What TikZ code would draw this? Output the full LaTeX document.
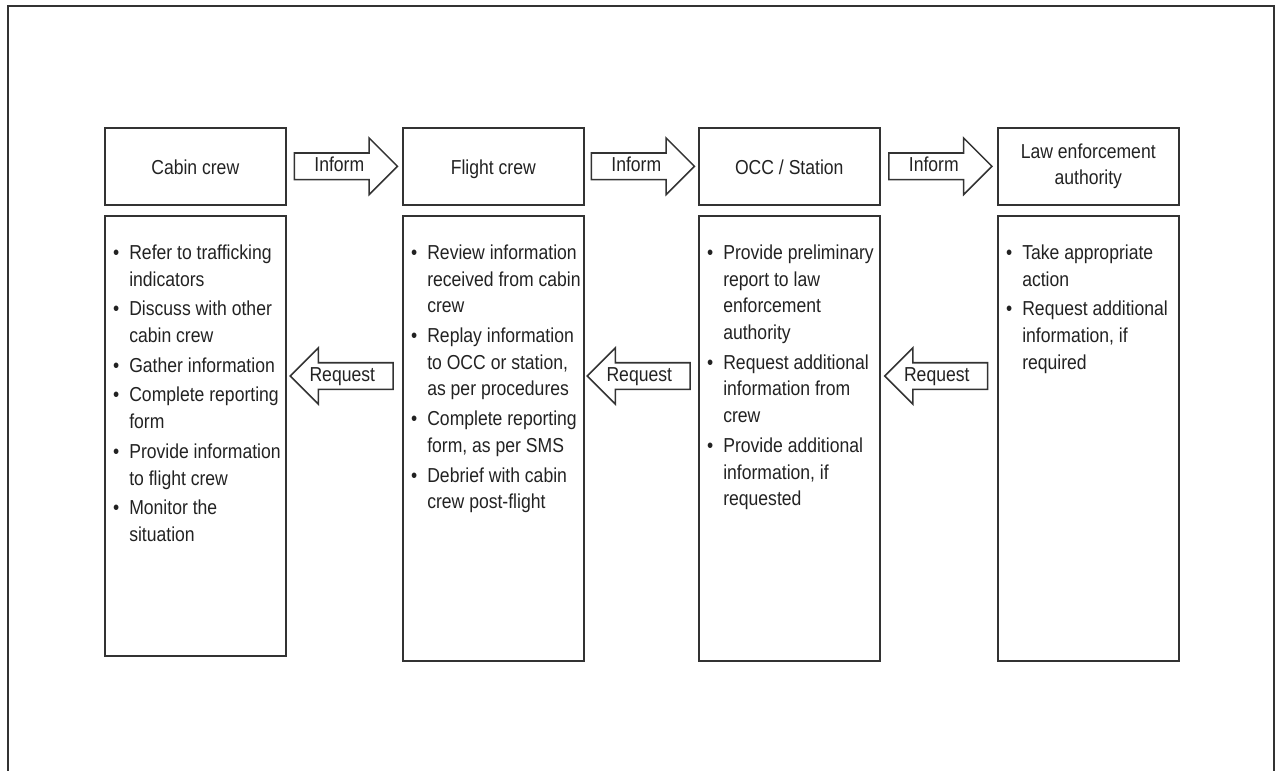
\documentclass[tikz,border=0pt]{standalone}
\usepackage{fontspec}
\setmainfont{Liberation Sans}[FakeStretch=0.87]
\usepackage{enumitem}
\usepackage{xcolor}
\usetikzlibrary{shapes.arrows,calc}

\definecolor{linegray}{HTML}{333333}
\definecolor{textgray}{HTML}{222222}

\setlist[itemize]{label=\textbullet, leftmargin=0.49cm, labelsep=0.2cm,
  itemsep=0.06cm, topsep=0pt, parsep=0pt, partopsep=0pt}

% bullet list inside a box of fixed size
\newcommand{\bodylist}[2][8.9cm]{%
  \begin{minipage}[t][#1][t]{3.62cm}\vspace*{0.58cm}\raggedright
  \begin{itemize}#2\end{itemize}\end{minipage}}

\begin{document}
\begin{tikzpicture}[x=0.02cm, y=-0.02cm,
  font=\fontsize{11.5pt}{15.2pt}\selectfont, text=textgray,
% common options for the header boxes:
head/.style = {draw=linegray, line width=0.9pt, minimum width=3.62cm,
            minimum height=1.54cm, anchor=north west, align=center, inner sep=0,
            text height=0.4cm, text depth=0.08cm},
% common options for the list boxes:
body/.style = {draw=linegray, line width=0.9pt, anchor=north west, inner sep=0},
% common options for the block arrows:
blockarrow/.style = {single arrow, draw=linegray, line width=0.9pt,
            minimum height=2.06cm, single arrow head extend=0.3cm,
            single arrow tip angle=90, text height=0.3cm, text depth=0.08cm,
            inner ysep=0.06cm, inner xsep=0},
inform/.style = {blockarrow, xshift=-0.1cm},
request/.style = {blockarrow, shape border rotate=180, xshift=0.08cm,
            execute at begin node=\hspace*{-0.12cm},
            execute at end node=\hspace*{0.12cm}}]
\useasboundingbox (0,0) rectangle (1275,771);
\draw[linegray, line width=0.9pt] (8,771) -- (8,6) -- (1274,6) -- (1274,771);
\node[head] (cabin) at (104,127) {Cabin crew};
\node[head] (flight) at (402,127) {Flight crew};
\node[head] (occ) at (698,127) {OCC / Station};
\node[head, text height={}, text depth={}] (law) at (997,127) {Law enforcement\\authority};
\node[body] (cabinlist) at (104,215) {\bodylist[8.8cm]{
  \item Refer to trafficking\\ indicators
  \item Discuss with other\\ cabin crew
  \item Gather information
  \item Complete reporting\\ form
  \item Provide information\\ to flight crew
  \item Monitor the\\ situation}};
\node[body] (flightlist) at (402,215) {\bodylist{
  \item Review information\\ received from cabin\\ crew
  \item Replay information\\ to OCC or station,\\ as per procedures
  \item Complete reporting\\ form, as per SMS
  \item Debrief with cabin\\ crew post-flight}};
\node[body] (occlist) at (698,215) {\bodylist{
  \item Provide preliminary\\ report to law\\ enforcement\\ authority
  \item Request additional\\ information from\\ crew
  \item Provide additional\\ information, if\\ requested}};
\node[body] (lawlist) at (997,215) {\bodylist{
  \item Take appropriate\\ action
  \item Request additional\\ information, if\\ required}};
\node[inform] (inform1) at ($(cabin.east)!0.5!(flight.west)$) {Inform};
\node[inform] (inform2) at ($(flight.east)!0.5!(occ.west)$) {Inform};
\node[inform] (inform3) at ($(occ.east)!0.5!(law.west)$) {Inform};
\node[request] (request1) at ($(cabinlist.east |- 0,376)!0.5!(flightlist.west |- 0,376)$) {Request};
\node[request] (request2) at ($(flightlist.east |- 0,376)!0.5!(occlist.west |- 0,376)$) {Request};
\node[request] (request3) at ($(occlist.east |- 0,376)!0.5!(lawlist.west |- 0,376)$) {Request};
\end{tikzpicture}
\end{document}
